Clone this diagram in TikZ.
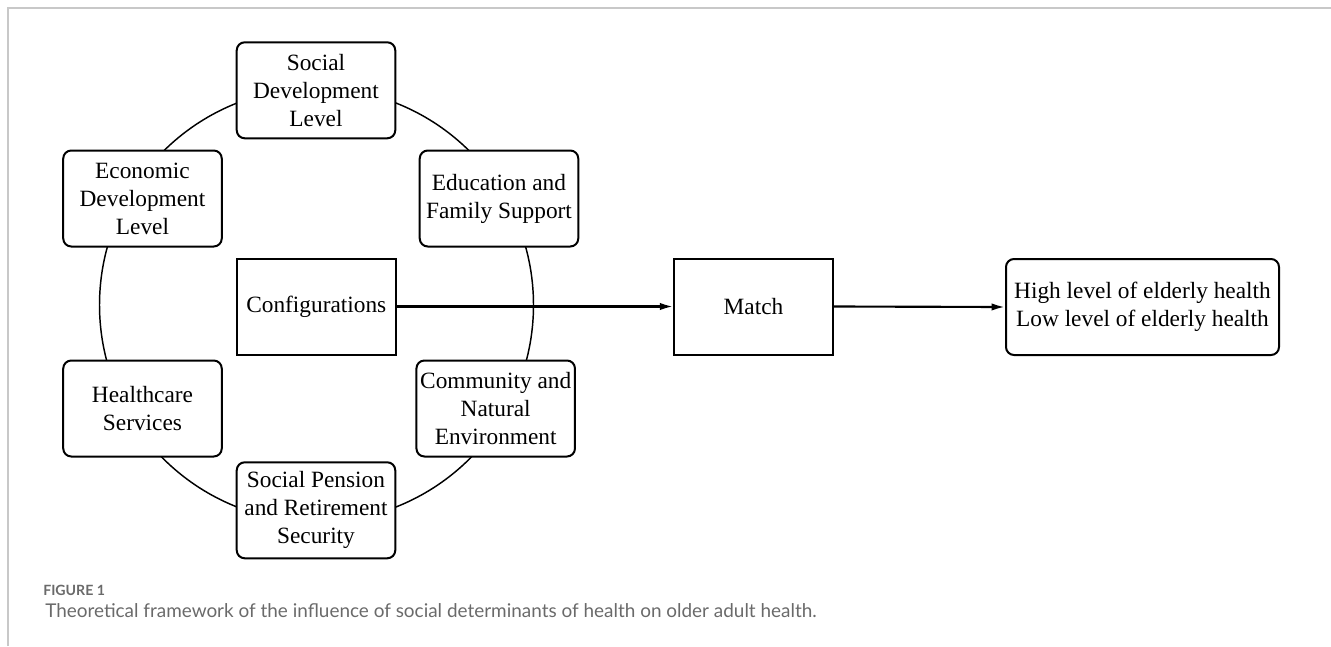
\documentclass[tikz,border=0pt]{standalone}
\usepackage{fontspec}
\setmainfont{Liberation Serif}
\newfontfamily\capfont{Lato}
\usetikzlibrary{arrows.meta}
\definecolor{framegray}{HTML}{C8C8C8}
\definecolor{capgray}{HTML}{6A6A6A}
\tikzset{
  box/.style={draw, line width=1.5pt, fill=white, rounded corners=6pt,
    minimum width=118.9pt, minimum height=72pt, inner sep=0pt, align=center,
    font=\fontsize{17.5pt}{21pt}\selectfont},
  sharpbox/.style={box, rounded corners=0pt},
  conn/.style={line width=1.6pt, -{Latex[length=10pt,width=5.5pt]}},
  ring/.style={line width=1.1pt}
}
\begin{document}
\begin{tikzpicture}[x=0.75pt,y=-0.75pt]
\useasboundingbox (0,0) rectangle (1331,646);
% frame
\draw[framegray, line width=1.5pt] (8,646) -- (8,7.5) -- (1331,7.5);
% ring
\coordinate (rc) at (316.5,305);
\draw[ring] (rc) circle[radius=217];
% boxes
\node[box] (soc) at (316,90.3) {Social\\Development\\Level};
\node[box] (eco) at (142.5,198.5) {Economic\\Development\\Level};
\node[box] (edu) at (499,198.5) {Education and\\Family Support};
\node[sharpbox] (cfg) at (316.3,306.5) {Configurations};
\node[box] (hc) at (142.5,408.5) {Healthcare\\Services};
\node[box] (com) at (495.7,408.5) {Community and\\Natural\\Environment};
\node[box] (pen) at (316,510.3) {Social Pension\\and Retirement\\Security};
\node[sharpbox] (mat) at (753.5,306.5) {Match};
\node[box, minimum width=204.75pt] (out) at (1142.5,307) {High level of elderly health\\Low level of elderly health};
% connectors
\draw[conn] (cfg.east) -- (mat.west);
\draw[conn] (mat.east) -- (out.west);
% caption
\node[anchor=base west, inner sep=0pt, text=capgray, font=\capfont\bfseries\fontsize{10.6pt}{12pt}\selectfont] (fig) at (43,595) {FIGURE 1};
\node[anchor=base west, inner sep=0pt, text=capgray, font=\capfont\fontsize{14.2pt}{17pt}\selectfont] (cap) at (45,617) {Theoretical framework of the influence of social determinants of health on older adult health.};
\end{tikzpicture}
\end{document}
